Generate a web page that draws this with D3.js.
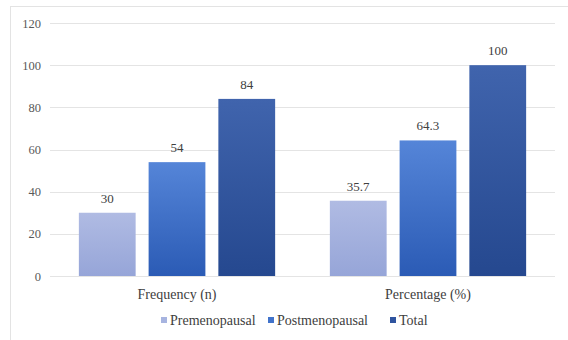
<!DOCTYPE html>
<html>
<head>
<meta charset="utf-8">
<script src="https://cdn.jsdelivr.net/npm/d3@7"></script>
<style>
  body { margin: 0; background: #fff; }
  svg text { font-family: "Liberation Serif", "Times New Roman", Tinos, "DejaVu Serif", serif !important; }
</style>
</head>
<body>
<svg id="chart" width="568" height="340"></svg>
<script>
const categories = ["Frequency (n)", "Percentage (%)"];
const seriesNames = ["Premenopausal", "Postmenopausal", "Total"];
const premenopausal = [30, 35.7];
const postmenopausal = [54, 64.3];
const total = [84, 100];
const yTicks = [0, 20, 40, 60, 80, 100, 120];

// gradient stops per series (top, bottom)
const seriesColors = [
  ["#b0bbe3", "#96a5d8"],
  ["#5585d8", "#2b5bb5"],
  ["#4064ad", "#25488f"]
];
const legendColors = ["#a7b4e0", "#4173cb", "#2f549f"];

const svg = d3.select("#chart");
const margin = { top: 23, right: 13, bottom: 64, left: 50 };
const width = 568 - margin.left - margin.right;
const height = 340 - margin.top - margin.bottom;

// outer chart frame
svg.append("rect")
  .attr("x", 10.5).attr("y", 6.5)
  .attr("width", 568).attr("height", 340)
  .attr("fill", "none")
  .attr("stroke", "#e3e3e3");

const defs = svg.append("defs");
seriesColors.forEach((c, i) => {
  const g = defs.append("linearGradient")
    .attr("id", `grad${i}`)
    .attr("x1", 0).attr("y1", 0).attr("x2", 0).attr("y2", 1);
  g.append("stop").attr("offset", "0%").attr("stop-color", c[0]);
  g.append("stop").attr("offset", "100%").attr("stop-color", c[1]);
});

const g = svg.append("g").attr("transform", `translate(${margin.left},${margin.top})`);

const x0 = d3.scaleBand().domain(categories).range([0, width]).paddingInner(0.218).paddingOuter(0.115);
const x1 = d3.scaleBand().domain(seriesNames).range([0, x0.bandwidth()]).paddingInner(0.186);
const y = d3.scaleLinear().domain([0, 120]).range([height, 0]);

// gridlines
g.append("g")
  .selectAll("line")
  .data(yTicks)
  .join("line")
  .attr("x1", 0).attr("x2", width)
  .attr("y1", d => Math.round(y(d)) + 0.5)
  .attr("y2", d => Math.round(y(d)) + 0.5)
  .attr("stroke", "#e4e4e4")
  .attr("stroke-width", 1);

// y axis labels
const yAxis = g.append("g")
  .call(d3.axisLeft(y).tickValues(yTicks).tickSize(0).tickPadding(9));
yAxis.select(".domain").remove();
yAxis.selectAll("text")
  .attr("font-size", 12.5)
  .attr("fill", "#595959");

const rows = seriesNames.map((name, i) => ({
  name,
  values: [premenopausal, postmenopausal, total][i]
}));

const bars = [];
categories.forEach((cat, ci) => {
  rows.forEach((r, si) => {
    bars.push({ cat, series: r.name, si, value: r.values[ci] });
  });
});

g.selectAll("rect.bar")
  .data(bars)
  .join("rect")
  .attr("class", "bar")
  .attr("x", d => x0(d.cat) + x1(d.series))
  .attr("y", d => y(d.value))
  .attr("width", x1.bandwidth())
  .attr("height", d => height - y(d.value))
  .attr("fill", d => `url(#grad${d.si})`);

g.selectAll("text.val")
  .data(bars)
  .join("text")
  .attr("class", "val")
  .attr("x", d => x0(d.cat) + x1(d.series) + x1.bandwidth() / 2)
  .attr("y", d => y(d.value) - 10)
  .attr("text-anchor", "middle")
  .attr("font-size", 13)
  .attr("fill", "#404040")
  .text(d => d.value);

// x axis category labels
const xAxis = g.append("g")
  .attr("transform", `translate(0,${height})`)
  .call(d3.axisBottom(x0).tickSize(0).tickPadding(13));
xAxis.select(".domain").remove();
xAxis.selectAll("text")
  .attr("font-size", 14)
  .attr("fill", "#404040");

// legend
const legendX = [161, 268, 390];
const legend = svg.append("g").attr("transform", "translate(0,322)");
seriesNames.forEach((name, i) => {
  const item = legend.append("g").attr("transform", `translate(${legendX[i]},0)`);
  item.append("rect")
    .attr("x", 0).attr("y", -5)
    .attr("width", 6).attr("height", 6)
    .attr("fill", legendColors[i]);
  item.append("text")
    .attr("x", 9).attr("y", 3)
    .attr("font-size", 14)
    .attr("fill", "#404040")
    .text(name);
});
</script>
</body>
</html>
